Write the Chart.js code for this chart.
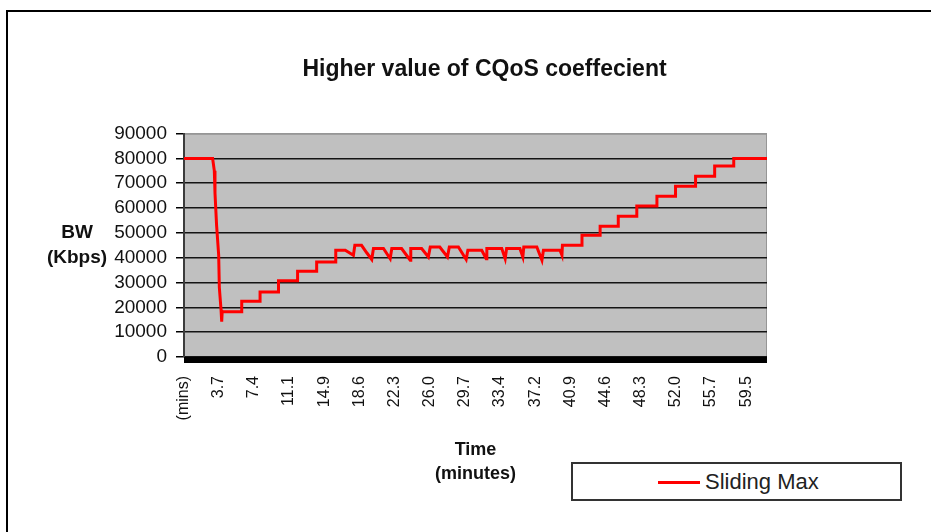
<!DOCTYPE html>
<html>
<head>
<meta charset="utf-8">
<script src="https://cdn.jsdelivr.net/npm/chart.js@4"></script>
<style>
  body { margin: 0; background: #fff; overflow: hidden; width: 931px; height: 532px; position: relative; font-family: "Liberation Sans", Arial, sans-serif; }
  #frame { position: absolute; left: 6px; top: 10px; width: 940px; height: 540px; border: 2px solid #000; }
  #wrap { position: absolute; left: 38px; top: 0; width: 893px; height: 532px; }
  #bw { position: absolute; left: 37px; top: 219px; width: 80px; text-align: center; font-weight: bold; font-size: 19px; line-height: 25px; color: #111; }
  #legend { position: absolute; left: 571px; top: 462px; width: 327px; height: 35px; border: 2px solid #333; background: #fff; }
  #legend .swatch { position: absolute; left: 85px; top: 17px; width: 42px; height: 3px; background: #ff0000; }
  #legend .txt { position: absolute; left: 132px; top: 5px; font-size: 22px; color: #222; }
</style>
</head>
<body>
<div id="frame"></div>
<div id="wrap"><canvas id="myChart"></canvas></div>
<div id="bw">BW<br>(Kbps)</div>
<div id="legend"><span class="swatch"></span><span class="txt">Sliding Max</span></div>
<script>
const COLORS = {
    red: 'rgba(255, 0, 0, 1)',
    plotGray: 'rgba(192, 192, 192, 1)',
    grid: 'rgba(20, 20, 20, 1)',
    text: 'rgba(17, 17, 17, 1)'
};

// time (minutes) and bandwidth (Kbps) of the Sliding Max trace
const timeMin = [0, 3.03, 3.21, 3.28, 3.45, 3.67, 3.74, 3.92, 3.99, 4.04,
    6.11, 6.11, 8.05, 8.05, 10.0, 10.0, 12.02, 12.02, 14.04, 14.04, 16.06, 16.06,
    17.07, 17.93, 18.08, 18.79, 19.34, 19.87, 20.05, 21.11, 21.82, 21.99, 23.03,
    23.94, 24.0, 25.15, 25.86, 26.06, 27.07, 27.88, 28.08, 29.04, 29.86, 30.04,
    31.51, 31.98, 32.05, 33.63, 33.99, 34.14, 35.55, 35.86, 35.96, 37.34, 37.88,
    38.04, 39.79, 40.0, 40.05, 42.12, 42.12, 44.04, 44.04, 45.96, 45.96, 47.92,
    47.92, 50.05, 50.05, 52.02, 52.02, 54.14, 54.14, 56.16, 56.16, 58.18, 58.18, 61.7];
const bwKbps = [80000, 80000, 75000, 66000, 53000, 41000, 28000, 19000, 14200, 18200,
    18200, 22500, 22500, 26200, 26200, 30700, 30700, 34500, 34500, 38300, 38300, 43000,
    43000, 41000, 45000, 45000, 42000, 39300, 43700, 43700, 39600, 43700, 43700,
    39000, 43700, 43700, 40300, 44300, 44300, 40300, 44300, 44300, 39300, 43000,
    43000, 39600, 43700, 43700, 39600, 43700, 43700, 40300, 44300, 44300, 39000,
    43000, 43000, 41000, 45000, 45000, 49000, 49000, 52700, 52700, 56700, 56700,
    60800, 60800, 64800, 64800, 68800, 68800, 72800, 72800, 76900, 76900, 80000, 80000];

const tickValues = [0, 3.7, 7.4, 11.1, 14.9, 18.6, 22.3, 26.0, 29.7, 33.4, 37.2,
    40.9, 44.6, 48.3, 52.0, 55.7, 59.5];
const tickLabels = ['(mins)', '3.7', '7.4', '11.1', '14.9', '18.6', '22.3', '26.0', '29.7',
    '33.4', '37.2', '40.9', '44.6', '48.3', '52.0', '55.7', '59.5'];

// gray plot background, border and the thick black floor under it
const plotBackground = {
    id: 'plotBackground',
    beforeDraw(chart) {
        const { ctx, chartArea: a } = chart;
        ctx.save();
        ctx.fillStyle = COLORS.plotGray;
        ctx.fillRect(a.left, a.top, a.right - a.left, a.bottom - a.top);
        ctx.strokeStyle = 'rgba(150, 150, 150, 1)';
        ctx.lineWidth = 1;
        ctx.strokeRect(a.left, a.top + 0.5, a.right - a.left - 0.5, a.bottom - a.top);
        ctx.restore();
    },
    afterDraw(chart) {
        const { ctx, chartArea: a } = chart;
        ctx.save();
        ctx.fillStyle = '#000';
        ctx.fillRect(a.left, a.bottom, a.right - a.left, 6);
        ctx.restore();
    }
};

const ctx = document.getElementById('myChart').getContext('2d');

new Chart(ctx, {
    type: 'line',
    data: {
        datasets: [{
            label: 'Sliding Max',
            data: timeMin.map((t, i) => ({ x: t, y: bwKbps[i] })),
            borderColor: COLORS.red,
            backgroundColor: COLORS.red,
            borderWidth: 3,
            pointRadius: 0,
            tension: 0,
            xAxisID: 'x',
            yAxisID: 'y'
        }]
    },
    options: {
        responsive: true,
        maintainAspectRatio: false,
        animation: false,
        layout: { padding: { left: 0, right: 0, top: 0, bottom: 46 } },
        plugins: {
            title: {
                display: true,
                text: 'Higher value of CQoS coeffecient',
                font: { family: "'Liberation Sans', Arial, sans-serif", size: 23, weight: 'bold' },
                color: COLORS.text,
                padding: { top: 56, bottom: 50 }
            },
            legend: { display: false },
            tooltip: { enabled: false }
        },
        scales: {
            x: {
                type: 'linear',
                min: 0,
                max: 61.7,
                afterBuildTicks: (axis) => { axis.ticks = tickValues.map(v => ({ value: v })); },
                afterFit: (axis) => { axis.height = 129; },
                ticks: {
                    autoSkip: false,
                    minRotation: 90,
                    maxRotation: 90,
                    padding: 19,
                    font: { family: "'Liberation Sans', Arial, sans-serif", size: 16 },
                    color: COLORS.text,
                    callback: (value, index) => tickLabels[index]
                },
                grid: { display: false, drawTicks: false },
                border: { display: false },
                title: {
                    display: true,
                    text: ['Time', '(minutes)'],
                    font: { family: "'Liberation Sans', Arial, sans-serif", size: 18, weight: 'bold', lineHeight: 1.33 },
                    color: COLORS.text,
                    padding: { top: 0, bottom: 0 }
                }
            },
            y: {
                min: 0,
                max: 90000,
                afterFit: (axis) => { axis.width = 146; },
                ticks: {
                    stepSize: 10000,
                    autoSkip: false,
                    padding: 9,
                    font: { family: "'Liberation Sans', Arial, sans-serif", size: 19 },
                    color: COLORS.text,
                    callback: (value) => String(value)
                },
                grid: {
                    color: (c) => c.tick && c.tick.value === 90000 ? 'rgba(150, 150, 150, 1)' : COLORS.grid,
                    lineWidth: 1.5,
                    tickLength: 8,
                    tickColor: '#000',
                    tickWidth: 1.5
                },
                border: { display: true, color: 'rgba(60, 60, 60, 1)', width: 2 }
            },
            // empty axis that keeps the space right of the plot
            pad: {
                type: 'linear',
                position: 'right',
                display: true,
                afterFit: (axis) => { axis.width = 164; },
                ticks: { display: false },
                grid: { display: false, drawTicks: false },
                border: { display: false }
            }
        }
    },
    plugins: [plotBackground]
});
</script>
</body>
</html>
